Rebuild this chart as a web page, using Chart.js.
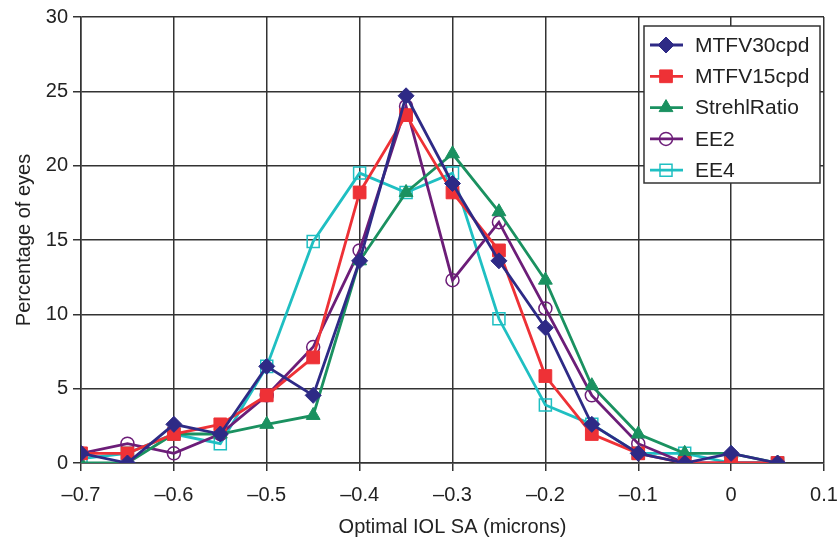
<!DOCTYPE html>
<html>
<head>
<meta charset="utf-8">
<script src="https://cdn.jsdelivr.net/npm/chart.js@4"></script>
<style>
  html, body { margin: 0; padding: 0; background: #fff; }
  #wrap { width: 840px; height: 543px; }
</style>
</head>
<body>
<div id="wrap"><canvas id="chart" width="840" height="543"></canvas></div>
<script>
// optimal IOL spherical aberration (microns)
const sa = [-0.7, -0.65, -0.6, -0.55, -0.5, -0.45, -0.4, -0.35, -0.3, -0.25, -0.2, -0.15, -0.1, -0.05, 0, 0.05];

// percentage of eyes for each metric
const mtfv30 = [0.65, 0, 2.6, 1.95, 6.5, 4.55, 13.6, 24.7, 18.8, 13.6, 9.1, 2.6, 0.65, 0, 0.65, 0];
const mtfv15 = [0.65, 0.65, 1.95, 2.6, 4.55, 7.1, 18.2, 23.4, 18.2, 14.3, 5.85, 1.95, 0.65, 0, 0, 0];
const strehl = [0, 0, 1.95, 1.95, 2.6, 3.2, 13.6, 18.2, 20.8, 16.9, 12.3, 5.2, 1.95, 0.65, 0.65, 0];
const ee2 = [0.65, 1.3, 0.65, 1.95, 4.55, 7.8, 14.3, 24.0, 12.3, 16.2, 10.4, 4.55, 1.3, 0, 0, 0];
const ee4 = [0.3, 0.65, 1.95, 1.3, 6.5, 14.9, 19.5, 18.2, 19.5, 9.7, 3.9, 2.6, 0.65, 0.65, 0, 0];

const xTicks = [-0.7, -0.6, -0.5, -0.4, -0.3, -0.2, -0.1, 0, 0.1];
const yTicks = [0, 5, 10, 15, 20, 25, 30];

const FONT = "'Liberation Sans', Arial, Helvetica, sans-serif";

function pts(values) {
    return sa.map((x, i) => ({ x: x, y: values[i] }));
}

function series(label, values, color, style, filled, radius) {
    return {
        label: label,
        data: pts(values),
        borderColor: color,
        backgroundColor: filled ? color : "rgba(0,0,0,0)",
        pointStyle: style,
        pointRadius: radius,
        pointHoverRadius: radius,
        pointBorderWidth: filled ? 1 : 1.5,
        borderWidth: 2.8,
        tension: 0,
    };
}

// legend box drawn inside the plot, top right
const boxLegend = {
    id: "boxLegend",
    afterDraw(chart) {
        const ctx = chart.ctx;
        const area = chart.chartArea;
        const w = 176, h = 157;
        const x0 = area.right - w - 4;
        const y0 = area.top + 9;
        ctx.save();
        ctx.fillStyle = "#fff";
        ctx.fillRect(x0, y0, w, h);
        ctx.strokeStyle = "#333";
        ctx.lineWidth = 1.5;
        ctx.strokeRect(x0, y0, w, h);
        ctx.font = "21px " + FONT;
        ctx.textBaseline = "middle";
        chart.data.datasets.forEach((ds, i) => {
            const cy = y0 + 19 + i * 31.3;
            ctx.strokeStyle = ds.borderColor;
            ctx.lineWidth = 2.8;
            ctx.beginPath();
            ctx.moveTo(x0 + 6, cy);
            ctx.lineTo(x0 + 39, cy);
            ctx.stroke();
            ctx.fillStyle = ds.backgroundColor;
            ctx.lineWidth = ds.pointBorderWidth;
            Chart.helpers.drawPoint(ctx, {
                pointStyle: ds.pointStyle,
                radius: ds.pointRadius,
                borderWidth: ds.pointBorderWidth,
                rotation: 0,
            }, x0 + 22, cy);
            ctx.fillStyle = "#222";
            ctx.fillText(ds.label, x0 + 51, cy + 1);
        });
        ctx.restore();
    },
};

function fmtX(v) {
    const r = Math.round(v * 10) / 10;
    if (r === 0) return "0";
    return (r < 0 ? "\u2013" : "") + Math.abs(r).toFixed(1);
}

new Chart(document.getElementById("chart"), {
    type: "line",
    data: {
        datasets: [
            series("MTFV30cpd", mtfv30, "#2e2a86", "rectRot", true, 8),
            series("MTFV15cpd", mtfv15, "#ee3136", "rect", true, 9),
            series("StrehlRatio", strehl, "#1a9160", "triangle", true, 8),
            series("EE2", ee2, "#6c1d78", "circle", false, 6.5),
            series("EE4", ee4, "#1fbfc2", "rect", false, 8.5),
        ],
    },
    options: {
        responsive: false,
        animation: false,
        events: [],
        layout: { padding: { top: 14, right: 16, left: 8, bottom: 0 } },
        plugins: {
            legend: { display: false },
            tooltip: { enabled: false },
        },
        scales: {
            x: {
                type: "linear",
                min: -0.7,
                max: 0.1,
                afterBuildTicks(scale) {
                    scale.ticks = xTicks.map((v) => ({ value: v }));
                },
                afterFit(scale) {
                    scale.height = 80;
                    scale.paddingLeft = 0;
                    scale.paddingRight = 0;
                },
                ticks: {
                    color: "#222",
                    font: { family: FONT, size: 20 },
                    padding: 12,
                    maxRotation: 0,
                    callback: fmtX,
                },
                grid: {
                    color: "#333",
                    lineWidth: 1.5,
                    tickLength: 8,
                },
                border: { color: "#333", width: 1.5 },
                title: {
                    display: true,
                    text: "Optimal IOL SA (microns)",
                    color: "#222",
                    font: { family: FONT, size: 20 },
                    padding: { top: 4, bottom: 4 },
                },
            },
            y: {
                min: 0,
                max: 30,
                afterBuildTicks(scale) {
                    scale.ticks = yTicks.map((v) => ({ value: v }));
                },
                afterFit(scale) {
                    scale.width = 73;
                },
                ticks: {
                    color: "#222",
                    font: { family: FONT, size: 20 },
                    padding: 5,
                },
                grid: {
                    color: "#333",
                    lineWidth: 1.5,
                    tickLength: 8,
                },
                border: { color: "#333", width: 1.5 },
                title: {
                    display: true,
                    text: "Percentage of eyes",
                    color: "#222",
                    font: { family: FONT, size: 20 },
                    padding: { bottom: 2 },
                },
            },
        },
    },
    plugins: [boxLegend],
});
</script>
</body>
</html>
